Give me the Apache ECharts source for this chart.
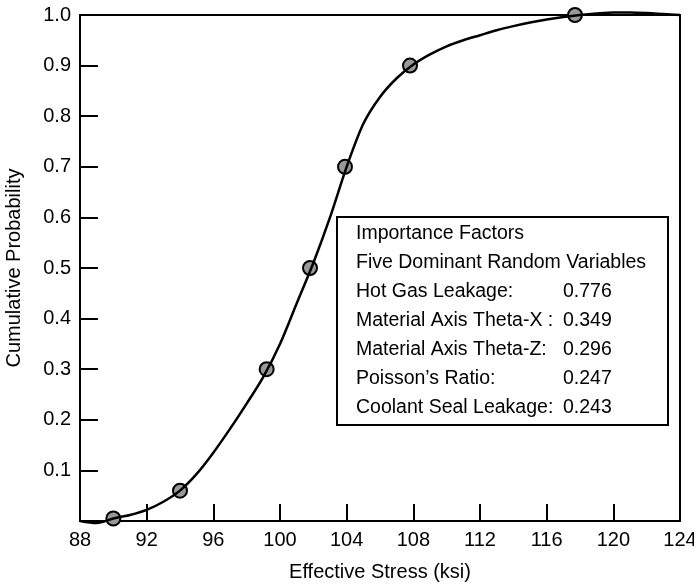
<!DOCTYPE html>
<html>
<head>
<meta charset="utf-8">
<script src="https://cdn.jsdelivr.net/npm/echarts@6/dist/echarts.min.js"></script>
<style>
  html, body { margin: 0; padding: 0; background: #fff; }
  #chart { width: 694px; height: 585px; }
</style>
</head>
<body>
<div id="chart"></div>
<script>
// sample points (effective stress, cumulative probability)
const sampleStress = [90, 94, 99.2, 101.8, 103.9, 107.8, 117.7];
const sampleProb = [0.005, 0.06, 0.3, 0.5, 0.7, 0.9, 1.0];

// fitted CDF curve at each ksi
const curveStress = [88, 89, 90, 91, 92, 93, 94, 95, 96, 97, 98, 99, 100, 101, 102, 103, 104, 105, 106,
    107, 108, 109, 110, 111, 112, 113, 114, 115, 116, 117, 118, 119, 120, 121, 122, 123, 124];
const curveProb = [0.0, -0.004, 0.005, 0.012, 0.022, 0.038, 0.06, 0.093, 0.135, 0.182, 0.232, 0.285, 0.35,
    0.43, 0.51, 0.6, 0.7, 0.785, 0.838, 0.875, 0.902, 0.922, 0.938, 0.95, 0.96, 0.97, 0.978, 0.985, 0.991,
    0.996, 1.0, 1.003, 1.005, 1.005, 1.004, 1.002, 1.0];

// importance factors box
const boxTitles = ['Importance Factors', 'Five Dominant Random Variables'];
const factorNames = ['Hot Gas Leakage:', 'Material Axis Theta-X :', 'Material Axis Theta-Z:', 'Poisson\u2019s Ratio:', 'Coolant Seal Leakage:'];
const factorValues = ['0.776', '0.349', '0.296', '0.247', '0.243'];

const FONT = '"Liberation Sans", Arial, Helvetica, sans-serif';
const FS = 20;
const BOX_FS = 19.5;

const chart = echarts.init(document.getElementById('chart'));

// legend text built from the arrays above
const textItems = [];
const boxX = 356, valX = 563, firstY = 234, rowH = 28.9;
boxTitles.forEach((t, i) => {
    textItems.push({
        type: 'text', x: boxX, y: firstY + i * rowH, z: 20,
        style: { text: t, font: BOX_FS + 'px ' + FONT, fill: '#000', verticalAlign: 'middle' }
    });
});
factorNames.forEach((n, i) => {
    const y = firstY + (i + 2) * rowH;
    textItems.push({
        type: 'text', x: boxX, y: y, z: 20,
        style: { text: n, font: BOX_FS + 'px ' + FONT, fill: '#000', verticalAlign: 'middle' }
    });
    textItems.push({
        type: 'text', x: valX, y: y, z: 20,
        style: { text: factorValues[i], font: BOX_FS + 'px ' + FONT, fill: '#000', verticalAlign: 'middle' }
    });
});

const option = {
    backgroundColor: '#fff',
    animation: false,
    grid: {
        left: 80, right: 14, top: 15, bottom: 64,
        show: true, borderColor: '#000', borderWidth: 2,
        outerBoundsMode: 'none'
    },
    xAxis: {
        type: 'value', min: 88, max: 124, interval: 4,
        name: 'Effective Stress (ksi)', nameLocation: 'middle', nameGap: 41,
        nameTextStyle: { color: '#000', fontSize: FS, fontFamily: FONT },
        axisLine: { show: true, lineStyle: { color: '#000', width: 2 } },
        axisTick: { show: true, inside: true, length: 17, lineStyle: { color: '#000', width: 2 } },
        axisLabel: { color: '#000', fontSize: FS, fontFamily: FONT, margin: 9, showMinLabel: true, showMaxLabel: true },
        splitLine: { show: false }
    },
    yAxis: {
        type: 'value', min: 0, max: 1, interval: 0.1,
        name: 'Cumulative Probability', nameLocation: 'middle', nameGap: 56,
        nameTextStyle: { color: '#000', fontSize: FS, fontFamily: FONT },
        axisLine: { show: true, lineStyle: { color: '#000', width: 2 } },
        axisTick: { show: true, inside: true, length: 18, lineStyle: { color: '#000', width: 2 } },
        axisLabel: {
            color: '#000', fontSize: FS, fontFamily: FONT, margin: 9,
            formatter: v => (v === 0 ? '' : v.toFixed(1))
        },
        splitLine: { show: false }
    },
    series: [
        {
            type: 'scatter',
            data: sampleStress.map((x, i) => [x, sampleProb[i]]),
            symbol: 'circle', symbolSize: 14,
            itemStyle: { color: '#999', borderColor: '#000', borderWidth: 2, opacity: 1 },
            z: 2
        },
        {
            type: 'line',
            data: curveStress.map((x, i) => [x, curveProb[i]]),
            smooth: 0.3,
            showSymbol: false,
            clip: false,
            lineStyle: { color: '#000', width: 2.5 },
            z: 3
        }
    ],
    graphic: [
        {
            type: 'rect', z: 10,
            shape: { x: 337, y: 217, width: 331, height: 208 },
            style: { fill: '#fff', stroke: '#000', lineWidth: 2 }
        }
    ].concat(textItems)
};

chart.setOption(option);
window.addEventListener('resize', () => chart.resize());
</script>
</body>
</html>
